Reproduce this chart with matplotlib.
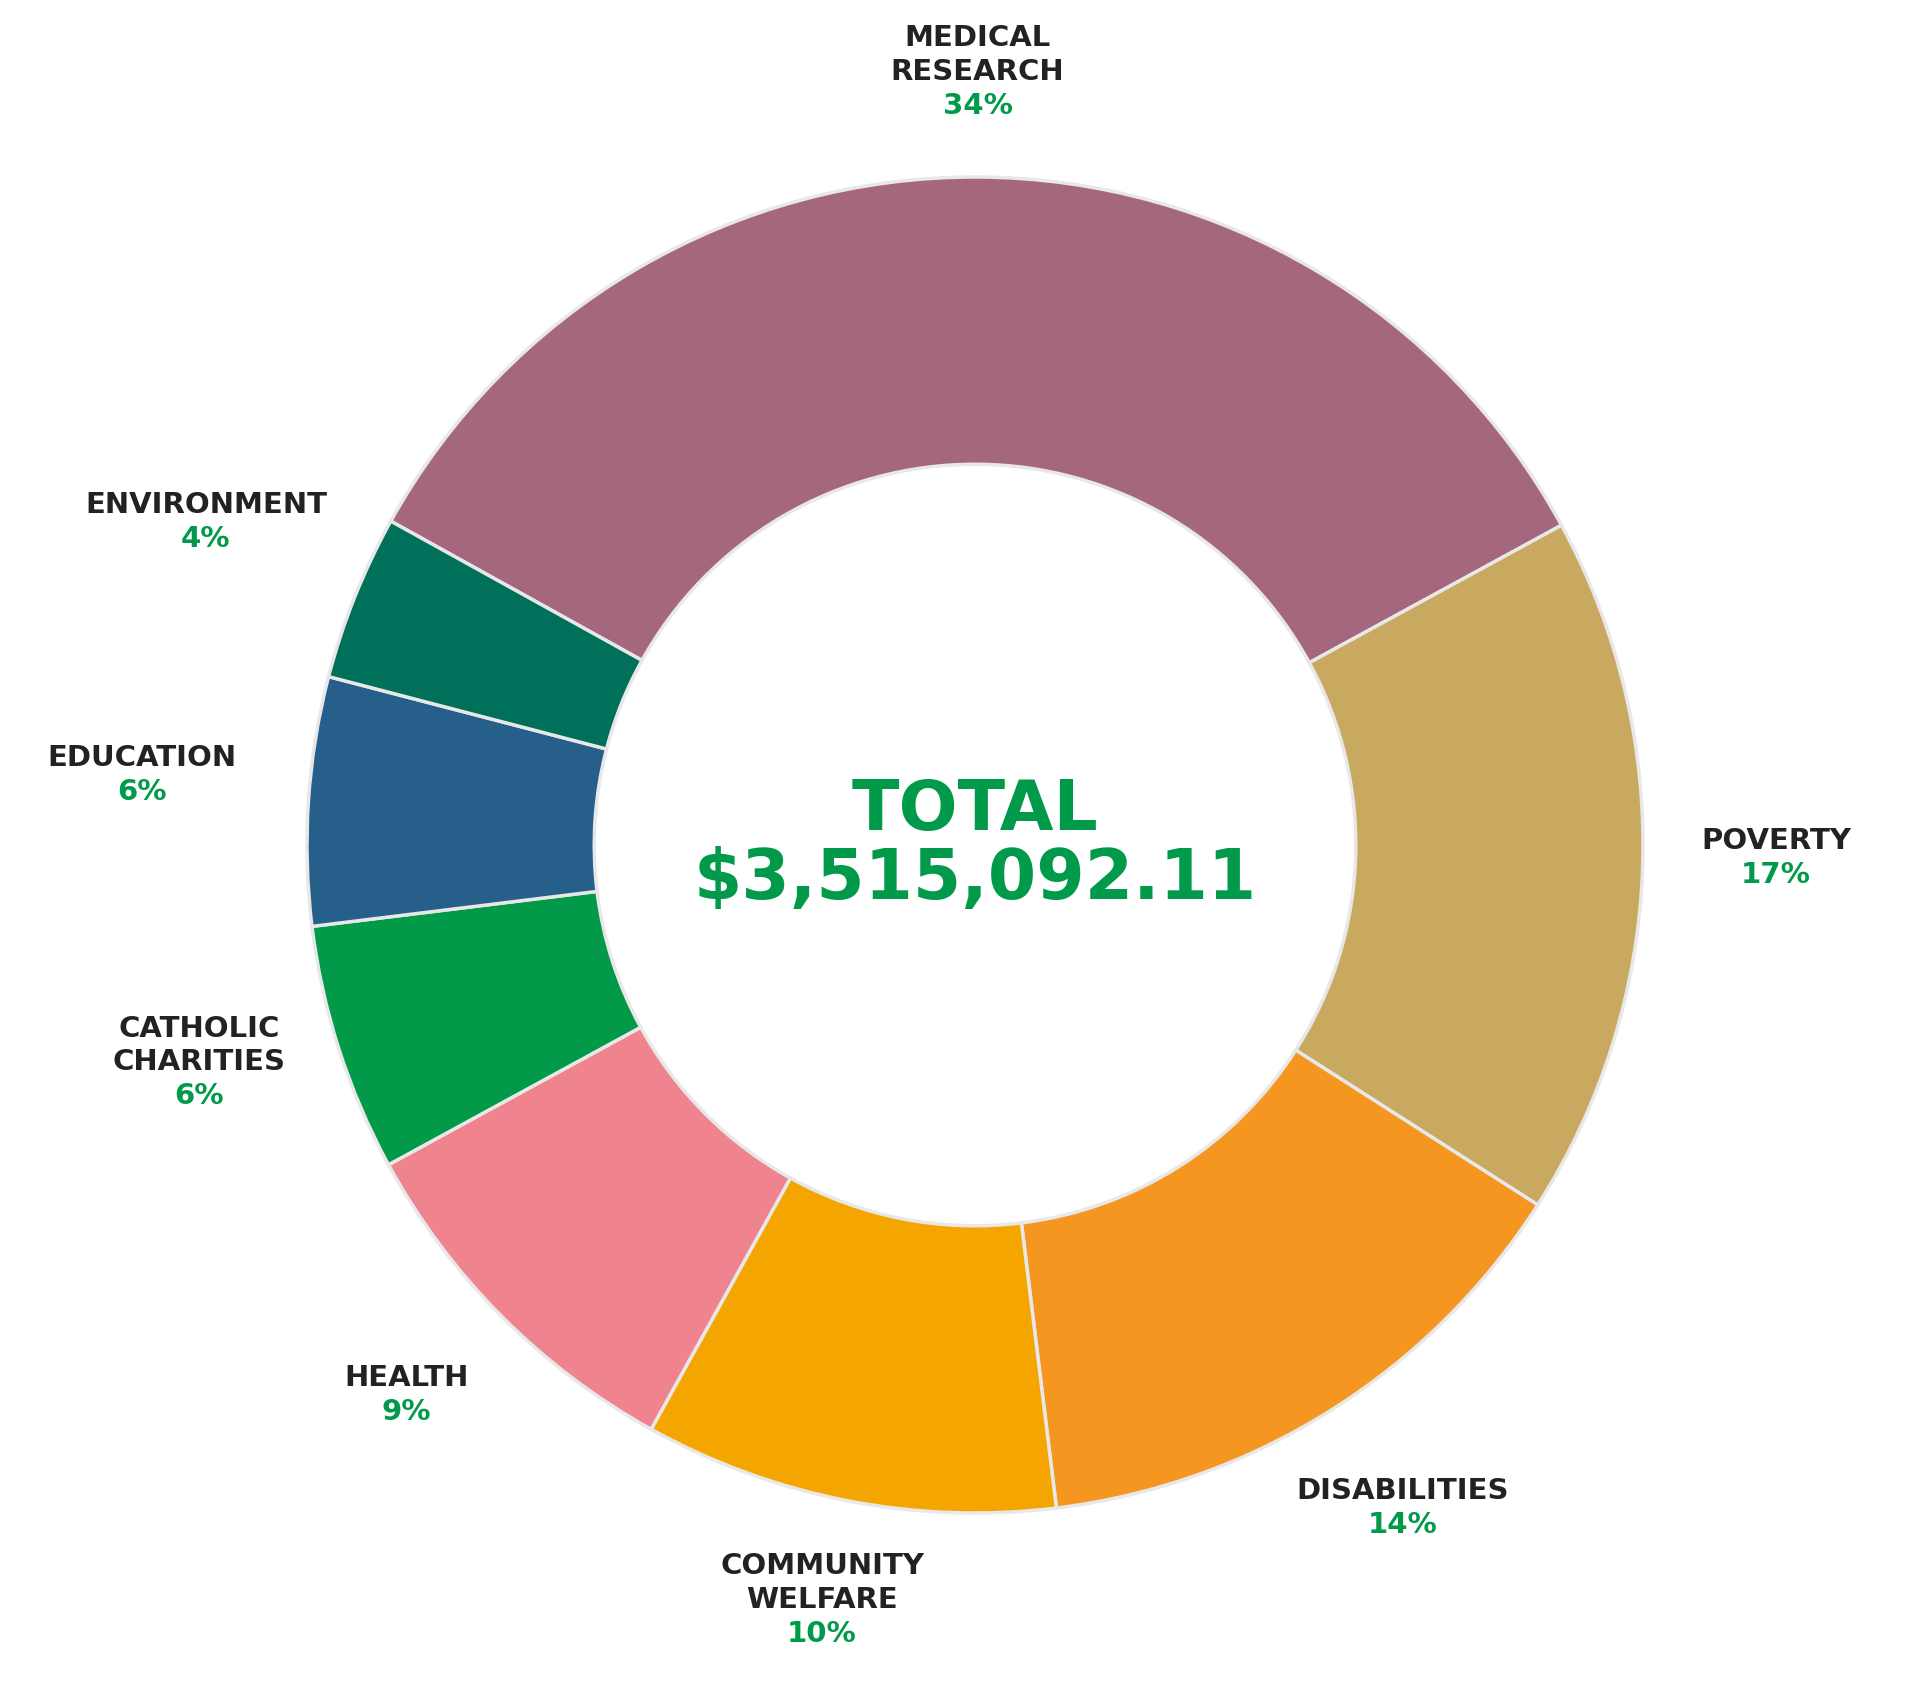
import numpy as np
import matplotlib
matplotlib.use("Agg")
import matplotlib.pyplot as plt

categories = ["MEDICAL\nRESEARCH", "POVERTY", "DISABILITIES", "COMMUNITY\nWELFARE",
              "HEALTH", "CATHOLIC\nCHARITIES", "EDUCATION", "ENVIRONMENT"]
shares = [34, 17, 14, 10, 9, 6, 6, 4]
colors = ["#A5677D", "#C9A860", "#F59620", "#F5A500",
          "#F0848E", "#029A48", "#255F8A", "#01705A"]
label_radius = [1.11, 1.2, 1.2, 1.2, 1.2, 1.22, 1.25, 1.24]
total_text = "TOTAL\n$3,515,092.11"

GREEN = "#009A4A"
DARK = "#222222"

fig = plt.figure(figsize=(19.2, 17), dpi=100)
ax = fig.add_axes([0, 0, 1, 1])
R = 668
start = 151
wedges, _ = ax.pie(shares, colors=colors, startangle=start, counterclock=False,
                   radius=R, wedgeprops=dict(width=R * 0.43, edgecolor="#e8e8e8", linewidth=2.5))
ax.set_xlim(-975, 945)
ax.set_ylim(-855, 845)
ax.axis("off")

for w, cat, s, lr in zip(wedges, categories, shares, label_radius):
    mid = np.deg2rad((w.theta1 + w.theta2) / 2)
    r = lr * R
    x, y = r * np.cos(mid), r * np.sin(mid)
    ax.text(x, y + 18, cat, ha="center", va="bottom", fontsize=21, fontweight="bold",
            color=DARK, linespacing=1.25)
    ax.text(x, y + 12, f"{s}%", ha="center", va="top", fontsize=21, fontweight="bold",
            color=GREEN)

ax.text(0, 0, total_text, ha="center", va="center", fontsize=50, fontweight="bold",
        color=GREEN, linespacing=1.05)

fig.savefig("out.png", dpi=100)
